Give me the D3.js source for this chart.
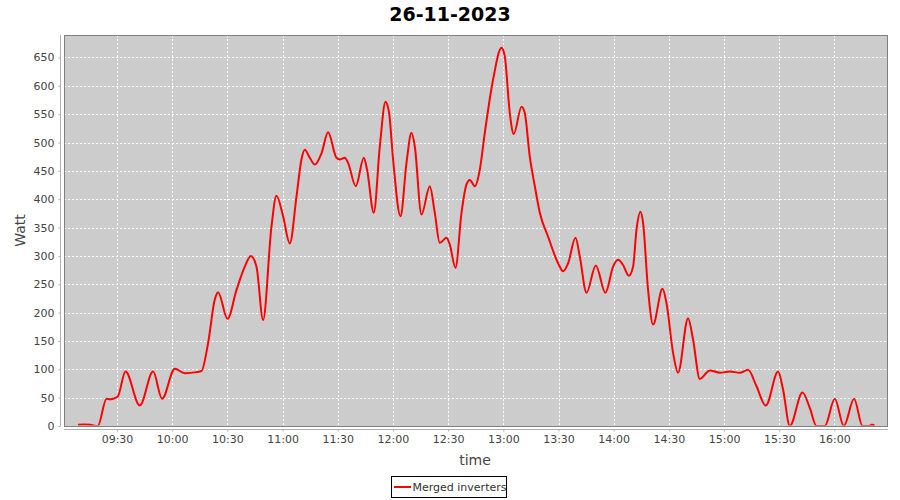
<!DOCTYPE html>
<html>
<head>
<meta charset="utf-8">
<script src="https://cdn.jsdelivr.net/npm/d3@7"></script>
<style>
  body { margin: 0; background: #ffffff; }
  svg { display: block; }
</style>
</head>
<body>
<svg id="chart" width="900" height="500"></svg>
<script>
// ---------------- data ----------------
const chartTitle = "26-11-2023";
const seriesName = "Merged inverters";
const xAxisLabel = "time";
const yAxisLabel = "Watt";

const times = [
  "09:08:50","09:12:00","09:15:15","09:19:35","09:24:18","09:26:00","09:27:53","09:30:26","09:34:38",
  "09:42:24","09:49:38","09:54:31","10:01:25","10:06:52","10:13:13","10:15:56","10:19:31",
  "10:23:10","10:24:58","10:30:04","10:34:58","10:39:28","10:42:44","10:45:50","10:49:25",
  "10:53:59","10:56:42","11:00:17","11:03:56","11:07:35","11:10:17","11:12:05","11:14:48",
  "11:17:31","11:21:10","11:24:45","11:29:19","11:31:07","11:33:50","11:35:37","11:39:49",
  "11:44:10","11:45:57","11:49:35","11:52:52","11:55:57","11:57:55","12:00:05","12:04:07",
  "12:07:22","12:10:05","12:11:53","12:15:31","12:20:02","12:22:45","12:25:28","12:29:07",
  "12:30:54","12:34:00","12:37:16","12:39:59","12:41:47","12:44:30","12:47:13","12:49:56",
  "12:54:26","12:59:01","13:00:48","13:03:31","13:05:41","13:09:53","13:11:40","13:14:23",
  "13:17:07","13:19:50","13:24:20","13:29:47","13:32:29","13:35:13","13:39:14","13:41:34",
  "13:45:13","13:50:16","13:55:32","13:59:40","14:02:23","14:05:07","14:08:12","14:10:32",
  "14:12:23","14:14:34","14:15:59","14:18:41","14:21:25","14:26:31","14:28:41","14:32:17",
  "14:35:00","14:40:26","14:43:09","14:46:48","14:52:14","14:57:40","15:03:06","15:08:32",
  "15:13:03","15:17:37","15:22:40","15:29:22","15:32:05","15:35:43","15:42:37","15:46:35",
  "15:50:14","15:54:45","16:00:11","16:05:04","16:10:40","16:15:14","16:19:10","16:20:00",
  "16:20:50","16:21:40"
];
const watts = [
  2, 2.5, 2, 0, 48, 47, 48, 52, 96,
  36, 96, 48, 101, 93, 95, 97, 146,
  223, 236, 189, 240, 281, 300, 281, 187,
  352, 406, 370, 322, 405, 470, 487, 473,
  461, 481, 518, 473, 470, 473, 464, 423,
  473, 452, 376, 493, 572, 552, 470, 370,
  464, 517, 493, 373, 423, 376, 323, 332,
  320, 279, 376, 426, 434, 423, 452, 517,
  611, 667, 652, 552, 515, 563, 552, 475,
  423, 376, 334, 287, 273, 287, 332, 299,
  235, 283, 235, 281, 293, 284, 265, 281,
  346, 378, 358, 240, 179, 242, 217, 129,
  94, 190, 152, 83, 98, 94, 96, 94,
  99, 70, 36, 96, 64, 0, 59, 32,
  0, 0, 48, 0, 48, 0, 0, 2,
  2, 0
];

const yTickValues = [0, 50, 100, 150, 200, 250, 300, 350, 400, 450, 500, 550, 600, 650];
const xTickLabels = ["09:30","10:00","10:30","11:00","11:30","12:00","12:30",
                     "13:00","13:30","14:00","14:30","15:00","15:30","16:00"];
const xDomainLabels = ["09:01:12", "16:29:06"];
const yDomain = [0, 689.6];

// ---------------- layout ----------------
const plot = { left: 64, right: 888, top: 35, bottom: 426 };
const fontFamily = "'DejaVu Sans', Verdana, sans-serif";

const parseTime = d3.timeParse("%H:%M:%S");
const parseHM = d3.timeParse("%H:%M");
const data = times.map((t, i) => ({ t: parseTime(t), v: watts[i] }));

const x = d3.scaleTime()
  .domain(xDomainLabels.map(parseTime))
  .range([plot.left, plot.right]);
const y = d3.scaleLinear()
  .domain(yDomain)
  .range([plot.bottom, plot.top]);

const svg = d3.select("#chart");

// background
svg.append("rect").attr("x", 0).attr("y", 0).attr("width", 900).attr("height", 500).attr("fill", "#ffffff");

// title
svg.append("text")
  .attr("x", 450).attr("y", 21)
  .attr("text-anchor", "middle")
  .attr("font-family", fontFamily)
  .attr("font-weight", "bold")
  .attr("font-size", 19)
  .attr("fill", "#000")
  .text(chartTitle);

// plot background
svg.append("rect")
  .attr("x", plot.left).attr("y", plot.top)
  .attr("width", plot.right - plot.left).attr("height", plot.bottom - plot.top)
  .attr("fill", "#cccccc");

// gridlines
const xTickDates = xTickLabels.map(parseHM);
const grid = svg.append("g").attr("stroke", "#ffffff").attr("stroke-width", 1)
  .attr("stroke-dasharray", "2,2").attr("shape-rendering", "crispEdges");
grid.selectAll("line.h").data(yTickValues.filter(v => v > 0)).join("line")
  .attr("x1", plot.left).attr("x2", plot.right)
  .attr("y1", d => Math.round(y(d)) + 0.5).attr("y2", d => Math.round(y(d)) + 0.5);
grid.selectAll("line.v").data(xTickDates).join("line")
  .attr("x1", d => Math.round(x(d)) + 0.5).attr("x2", d => Math.round(x(d)) + 0.5)
  .attr("y1", plot.top).attr("y2", plot.bottom);

// clip for series
svg.append("clipPath").attr("id", "plotclip")
  .append("rect")
  .attr("x", plot.left).attr("y", plot.top)
  .attr("width", plot.right - plot.left).attr("height", plot.bottom - plot.top - 0.5);

const line = d3.line()
  .x(d => x(d.t))
  .y(d => y(d.v))
  .curve(d3.curveMonotoneX);

svg.append("path")
  .datum(data)
  .attr("clip-path", "url(#plotclip)")
  .attr("fill", "none")
  .attr("stroke", "#ff0000")
  .attr("stroke-width", 2)
  .attr("stroke-linejoin", "round")
  .attr("d", line);

// plot outline
svg.append("rect")
  .attr("x", plot.left + 0.5).attr("y", plot.top + 0.5)
  .attr("width", plot.right - plot.left - 1).attr("height", plot.bottom - plot.top)
  .attr("fill", "none")
  .attr("stroke", "#808080")
  .attr("stroke-width", 1);

// y axis (offset 4px to the left)
const yAxis = d3.axisLeft(y)
  .tickValues(yTickValues)
  .tickSize(2)
  .tickPadding(4)
  .tickFormat(d3.format("d"));
const yg = svg.append("g")
  .attr("transform", `translate(${plot.left - 3.5},0)`)
  .call(yAxis);
yg.select(".domain").attr("stroke", "#b0b0b0").attr("d", `M0,${plot.top}V${plot.bottom}`);
yg.selectAll(".tick line").attr("stroke", "#b0b0b0");
yg.selectAll(".tick text")
  .attr("font-family", fontFamily).attr("font-size", 11).attr("fill", "#444");

// x axis (offset 3px below)
const xAxis = d3.axisBottom(x)
  .tickValues(xTickDates)
  .tickSize(2)
  .tickPadding(4)
  .tickFormat((d, i) => xTickLabels[i]);
const xg = svg.append("g")
  .attr("transform", `translate(0,${plot.bottom + 3.5})`)
  .call(xAxis);
xg.select(".domain").attr("stroke", "#b0b0b0").attr("d", `M${plot.left},0H${plot.right}`);
xg.selectAll(".tick line").attr("stroke", "#b0b0b0");
xg.selectAll(".tick text")
  .attr("font-family", fontFamily).attr("font-size", 11).attr("fill", "#444");

// axis labels
svg.append("text")
  .attr("x", 475).attr("y", 465)
  .attr("text-anchor", "middle")
  .attr("font-family", fontFamily).attr("font-size", 14).attr("fill", "#444")
  .text(xAxisLabel);
svg.append("text")
  .attr("transform", `translate(25,${(plot.top + plot.bottom) / 2}) rotate(-90)`)
  .attr("text-anchor", "middle")
  .attr("font-family", fontFamily).attr("font-size", 14).attr("fill", "#444")
  .text(yAxisLabel);

// legend
const legend = svg.append("g");
legend.append("rect")
  .attr("x", 391.5).attr("y", 476.5).attr("width", 115).attr("height", 21)
  .attr("fill", "#ffffff").attr("stroke", "#000").attr("stroke-width", 1);
legend.append("line")
  .attr("x1", 394).attr("x2", 411).attr("y1", 487).attr("y2", 487)
  .attr("stroke", "#ff0000").attr("stroke-width", 2);
legend.append("text")
  .attr("x", 412.5).attr("y", 491)
  .attr("font-family", fontFamily).attr("font-size", 11).attr("fill", "#333")
  .text(seriesName);
</script>
</body>
</html>
